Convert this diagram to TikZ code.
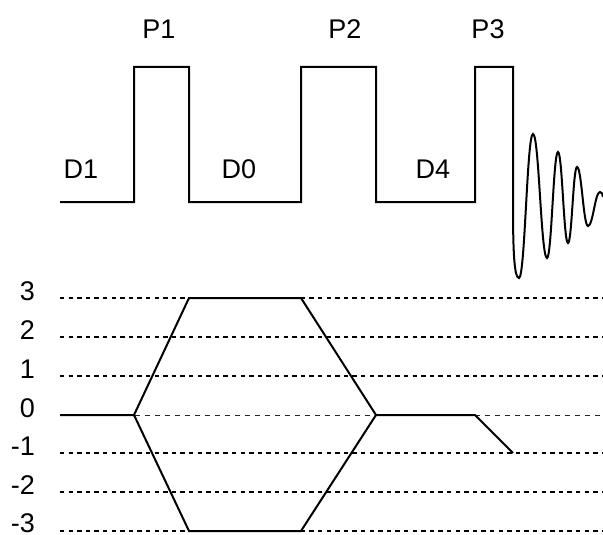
\documentclass[tikz,border=0pt]{standalone}
\usepackage{fontspec}
\setmainfont{Liberation Sans}
\begin{document}
\begin{tikzpicture}[x=1pt,y=-1pt,line join=miter,
  seq/.style={line width=2pt},
  cpath/.style={line width=2pt},
  lvl/.style={line width=1.3pt,dash pattern=on 4.3pt off 4.3pt},
  zerolvl/.style={line width=0.9pt,black!85,dash pattern=on 5pt off 5pt},
  lbl/.style={font=\fontsize{27}{32}\selectfont,inner sep=0pt,anchor=base}]
\useasboundingbox (0,0) rectangle (603,535);
% ---------- pulse sequence ----------
\coordinate (s0) at (60,202);
\coordinate (p1a) at (134,202); \coordinate (p1b) at (134,67);
\coordinate (p1c) at (189,67);  \coordinate (p1d) at (189,202);
\coordinate (p2a) at (301,202); \coordinate (p2b) at (301,67);
\coordinate (p2c) at (376,67);  \coordinate (p2d) at (376,202);
\coordinate (p3a) at (475,202); \coordinate (p3b) at (475,67);
\coordinate (p3c) at (513,67);  \coordinate (p3d) at (513,205);
\draw[seq] (s0) -- (p1a) -- (p1b) -- (p1c) -- (p1d) -- (p2a) -- (p2b) -- (p2c) -- (p2d)
  -- (p3a) -- (p3b) -- (p3c) -- (p3d)
  .. controls (513,255) and (514.5,278) .. (519,278)
  .. controls (525,278) and (527,134) .. (533,134)
  .. controls (539,134) and (541,258) .. (547,258)
  .. controls (551.6,258) and (553.4,152) .. (558,152)
  .. controls (562.2,152) and (563.8,243) .. (568,243)
  .. controls (571.8,243) and (573.2,167) .. (577,167)
  .. controls (581.6,167) and (583.4,226) .. (588,226)
  .. controls (593,226) and (595,192) .. (600,192)
  .. controls (601.5,192) and (603,194) .. (603,197);
\node[lbl] (P1) at (159,39) {P1};
\node[lbl] (P2) at (345,39) {P2};
\node[lbl] (P3) at (488,39) {P3};
\node[lbl] (D1) at (81,178) {D1};
\node[lbl] (D0) at (239,178) {D0};
\node[lbl] (D4) at (433,178) {D4};
% ---------- coherence levels ----------
\foreach \n/\y/\b in {3/298/300,2/337/339,1/376/378,-1/453/455,-2/492/494,-3/531/532}{
  \draw[lvl] (60,\y) -- (603,\y);
  \node[lbl,anchor=base east] at (35,\b) {\n};
}
\draw[zerolvl] (135,415) -- (603,415);
\node[lbl,anchor=base east] (L0) at (35,417) {0};
% ---------- coherence pathway ----------
\coordinate (c0) at (60,415);
\coordinate (c1) at (134,415);
\coordinate (u1) at (189,298); \coordinate (u2) at (301,298);
\coordinate (d1) at (189,531); \coordinate (d2) at (301,531);
\coordinate (c2) at (376,415);
\coordinate (c3) at (475,415);
\coordinate (c4) at (513,453);
\draw[cpath] (c0) -- (c1) -- (u1) -- (u2) -- (c2) -- (c3) -- (c4);
\draw[cpath] (c1) -- (d1) -- (d2) -- (c2);
\end{tikzpicture}
\end{document}
